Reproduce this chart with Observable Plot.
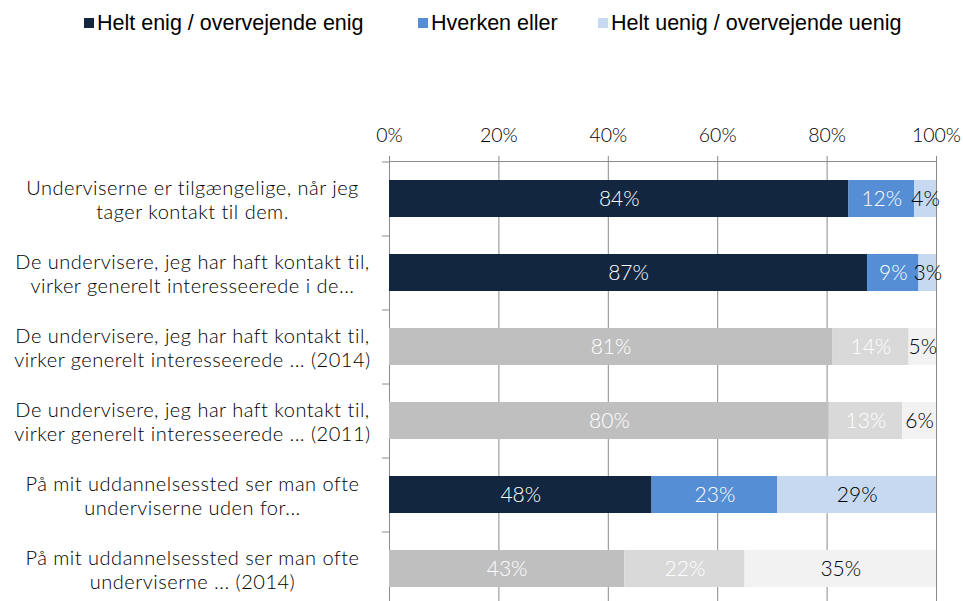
<!DOCTYPE html>
<html>
<head>
<meta charset="utf-8">
<script src="https://cdn.jsdelivr.net/npm/d3@7"></script>
<script src="https://cdn.jsdelivr.net/npm/@observablehq/plot@0.6"></script>
<style>
  html, body { margin: 0; padding: 0; background: white; }
  #wrap { position: relative; width: 963px; height: 601px; overflow: hidden; }
  #legend { position: absolute; top: 0; left: 0; width: 963px; height: 46px; z-index: 2;
            font-family: "Liberation Sans", Arial, sans-serif; font-size: 21.5px; color: #000; }
  #legend .item { position: absolute; top: 0; height: 46px; display: flex; align-items: center; gap: 3px; white-space: nowrap; }
  #legend .sw { width: 10px; height: 10px; display: inline-block; }
  #chart { position: absolute; top: 0; left: 0; }
</style>
</head>
<body>
<div id="wrap">
  <div id="legend"></div>
  <div id="chart"></div>
</div>
<script>
const categories = [
  "Underviserne er tilgængelige, når jeg\ntager kontakt til dem.",
  "De undervisere, jeg har haft kontakt til,\nvirker generelt interesseerede i de...",
  "De undervisere, jeg har haft kontakt til,\nvirker generelt interesseerede ... (2014)",
  "De undervisere, jeg har haft kontakt til,\nvirker generelt interesseerede ... (2011)",
  "På mit uddannelsessted ser man ofte\nunderviserne uden for...",
  "På mit uddannelsessted ser man ofte\nunderviserne ... (2014)"
];
const comparison = [false, false, true, true, false, true];
const agree    = [84, 87.4, 81, 80.4, 48, 43];
const neutral  = [12, 9.4, 14, 13.4, 23, 22];
const disagree = [4, 3.2, 5, 6.2, 29, 35];
const responses = ["Helt enig / overvejende enig", "Hverken eller", "Helt uenig / overvejende uenig"];
const xTicks = [0, 20, 40, 60, 80, 100];

const currentColors = ["#12263f", "#558ed5", "#c6d9f1"];
const pastColors = ["#bfbfbf", "#d9d9d9", "#f2f2f2"];
const labelColors = ["#ffffff", "#ffffff", "#000000"];
const gridColor = "#8a8a8a";
const legendLefts = [84, 418, 598];

const series = [agree, neutral, disagree];
const rows = [];
categories.forEach((c, i) => {
  series.forEach((s, k) => {
    rows.push({cat: c, resp: k, value: s[i], past: comparison[i]});
  });
});

// legend
const legendEl = document.getElementById("legend");
responses.forEach((r, k) => {
  const it = document.createElement("div");
  it.className = "item";
  it.style.left = legendLefts[k] + "px";
  const sw = document.createElement("span");
  sw.className = "sw";
  sw.style.background = currentColors[k];
  const tx = document.createElement("span");
  tx.textContent = r;
  it.appendChild(sw); it.appendChild(tx);
  legendEl.appendChild(it);
});

const plotTop = 161, bandStep = 74;
const chart = Plot.plot({
  width: 963,
  height: 601,
  marginLeft: 389,
  marginRight: 27,
  marginTop: plotTop,
  marginBottom: 0,
  style: {fontFamily: "Lato, sans-serif", fontSize: "19px", background: "white", color: "#000"},
  x: {domain: [0, 100], label: null},
  y: {domain: categories, range: [plotTop, plotTop + bandStep * categories.length], paddingInner: 0.5, paddingOuter: 0.25, label: null},
  marks: [
    Plot.gridX(xTicks, {stroke: gridColor, strokeOpacity: 1}),
    Plot.frame({anchor: "top", stroke: gridColor}),
    Plot.axisX(xTicks, {anchor: "top", tickSize: 6, tickPadding: 14, stroke: gridColor, fill: "#000",
      tickFormat: d => d + "%", fontSize: 19.5, fontWeight: 300, label: null}),
    Plot.axisY({tickSize: 7, tickFormat: null, dy: -bandStep / 2, stroke: gridColor, label: null}),
    Plot.axisY({tickSize: 0, tickPadding: 0, textAnchor: "middle", dx: -197, fill: "#000",
      lineHeight: 1.2, fontSize: 20, fontWeight: 300, label: null, tickFormat: d => d}),
    Plot.barX(rows, Plot.stackX({x: "value", y: "cat",
      fill: d => (d.past ? pastColors : currentColors)[d.resp]})),
    Plot.text(rows, Plot.stackX({x: "value", y: "cat",
      text: d => Math.round(d.value) + "%",
      fill: d => labelColors[d.resp], fontSize: 21, fontWeight: 300}))
  ]
});
d3.select(chart).selectAll("g[aria-label='y-axis tick label'] text").style("letter-spacing", "0.5px");
document.getElementById("chart").appendChild(chart);
</script>
</body>
</html>
